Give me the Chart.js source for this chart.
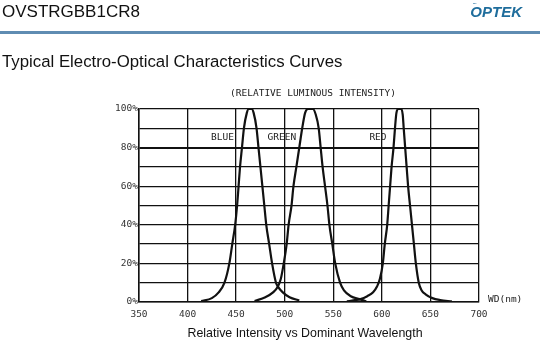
<!DOCTYPE html>
<html>
<head>
<meta charset="utf-8">
<script src="https://cdn.jsdelivr.net/npm/chart.js@4.4.0/dist/chart.umd.min.js"></script>
<style>
  body { margin: 0; background: #fff; font-family: "Liberation Sans", Arial, sans-serif; }
  #page { position: relative; width: 540px; height: 358px; overflow: hidden; }
  #chart { position: absolute; left: 0; top: 0; }
  .txt { position: absolute; white-space: nowrap; color: #111; }
  #part { left: 2px; top: 2px; font-size: 17px; }
  #logo { right: 18px; top: 3px; font-size: 15px; font-weight: bold; font-style: italic; color: #1f6d9c; }
  #dots { right: 64px; top: -3px; font-size: 8px; color: #1f6d9c; letter-spacing: -1px; }
  #rule { position: absolute; left: 0; top: 31px; width: 540px; height: 3px; background: #5f8cb2; }
  #heading { left: 2px; top: 52px; font-size: 16.8px; }
  #caption { left: 0; width: 610px; text-align: center; top: 326px; font-size: 12.4px; }
</style>
</head>
<body>
<div id="page">
  <canvas id="chart" width="540" height="358"></canvas>
  <div class="txt" id="part">OVSTRGBB1CR8</div>
  <div class="txt" id="dots">...</div>
  <div class="txt" id="logo">OPTEK</div>
  <div id="rule"></div>
  <div class="txt" id="heading">Typical Electro-Optical Characteristics Curves</div>
  <div class="txt" id="caption">Relative Intensity vs Dominant Wavelength</div>
</div>
<script>
// wavelength (nm) / relative intensity (%)
const blueWl  = [414, 425, 432, 438, 443, 446, 449, 451, 452.5, 454, 456, 458, 461, 463, 466, 468, 471, 473, 475, 477, 479, 481, 484, 487, 491, 493, 498, 505, 515];
const blueRel = [0.5, 2, 5, 10, 20, 30, 40, 50, 60, 70, 80, 90, 98, 100, 100, 98, 90, 80, 70, 60, 50, 40, 30, 20, 10, 8, 5, 2.5, 0.8];

const greenWl  = [469, 480, 488, 493, 496, 499, 502, 504, 507, 509, 512, 515, 518, 521, 524, 529, 532, 535, 537, 539, 541.5, 544, 546, 549, 552, 557, 561, 568, 577, 584];
const greenRel = [0.5, 2.5, 5, 8, 12, 20, 30, 40, 50, 60, 70, 80, 90, 98, 100, 100, 97, 90, 80, 70, 60, 50, 40, 30, 20, 10, 6, 3, 1.5, 0.3];

const redWl  = [564, 572, 578, 585, 591, 595, 598, 601, 603, 605.5, 607, 608.5, 610, 612, 613.5, 615, 617, 620, 621.5, 622.5, 624, 625.5, 627, 629, 631, 633, 635, 638, 641, 645, 652, 660, 672];
const redRel = [0.3, 1, 1.5, 3, 5, 8, 12, 20, 30, 40, 50, 60, 70, 80, 90, 98, 100, 100, 97, 90, 80, 70, 60, 50, 40, 30, 20, 10, 6, 4, 2, 1, 0.3];

const curveNames = ['BLUE', 'GREEN', 'RED'];
// label anchor (nm, %) for each curve name
const labelWl  = [436, 497, 596];
const labelRel = [85, 85, 85];

const xTicks = [350, 400, 450, 500, 550, 600, 650, 700];
const yTickLabels = ['0%', '20%', '40%', '60%', '80%', '100%'];

const monoFont = '"DejaVu Sans Mono", monospace';

function toPoints(xs, ys) {
    return xs.map((x, i) => ({ x: x, y: ys[i] }));
}

function curve(label, xs, ys) {
    return {
        label: label,
        data: toPoints(xs, ys),
        borderColor: '#111',
        borderWidth: 2.2,
        pointRadius: 0,
        fill: false,
        cubicInterpolationMode: 'monotone'
    };
}

// draws the titles and curve names on the chart
const textPlugin = {
    id: 'cadText',
    afterDraw(chart) {
        const { ctx, chartArea, scales } = chart;
        ctx.save();
        ctx.fillStyle = '#222';
        ctx.font = '9.5px ' + monoFont;
        ctx.textBaseline = 'middle';
        ctx.textAlign = 'center';
        ctx.fillText('(RELATIVE LUMINOUS INTENSITY)', 313, 94);
        curveNames.forEach((name, i) => {
            ctx.fillText(name, scales.x.getPixelForValue(labelWl[i]), scales.y.getPixelForValue(labelRel[i]));
        });
        ctx.textAlign = 'left';
        ctx.fillText('WD(nm)', chartArea.right + 9, chartArea.bottom - 2);
        ctx.restore();
    }
};

new Chart(document.getElementById('chart'), {
    type: 'line',
    data: {
        datasets: [
            curve('Blue', blueWl, blueRel),
            curve('Green', greenWl, greenRel),
            curve('Red', redWl, redRel)
        ]
    },
    options: {
        responsive: false,
        animation: false,
        layout: { padding: { left: 100, right: 61, top: 109, bottom: 36 } },
        plugins: { legend: { display: false }, tooltip: { enabled: false } },
        scales: {
            x: {
                type: 'linear',
                min: 350,
                max: 700,
                afterFit: s => { s.height = 20; },
                afterBuildTicks: s => { s.ticks = xTicks.map(v => ({ value: v })); },
                ticks: { color: '#333', font: { family: monoFont, size: 9.5 }, padding: 7, callback: v => String(v) },
                grid: { color: '#111', lineWidth: 1.3, drawTicks: false },
                border: { color: '#111', width: 1.5 }
            },
            y: {
                min: 0,
                max: 100,
                afterFit: s => { s.width = 39; },
                ticks: {
                    stepSize: 10,
                    color: '#333',
                    padding: 1,
                    font: { family: monoFont, size: 9.5 },
                    callback: v => (v % 20 === 0 ? yTickLabels[v / 20] : '')
                },
                grid: {
                    color: '#111',
                    drawTicks: false,
                    lineWidth: c => (c.tick && c.tick.value === 80 ? 2 : 1.3)
                },
                border: { color: '#111', width: 1.5 }
            }
        }
    },
    plugins: [textPlugin]
});
</script>
</body>
</html>
